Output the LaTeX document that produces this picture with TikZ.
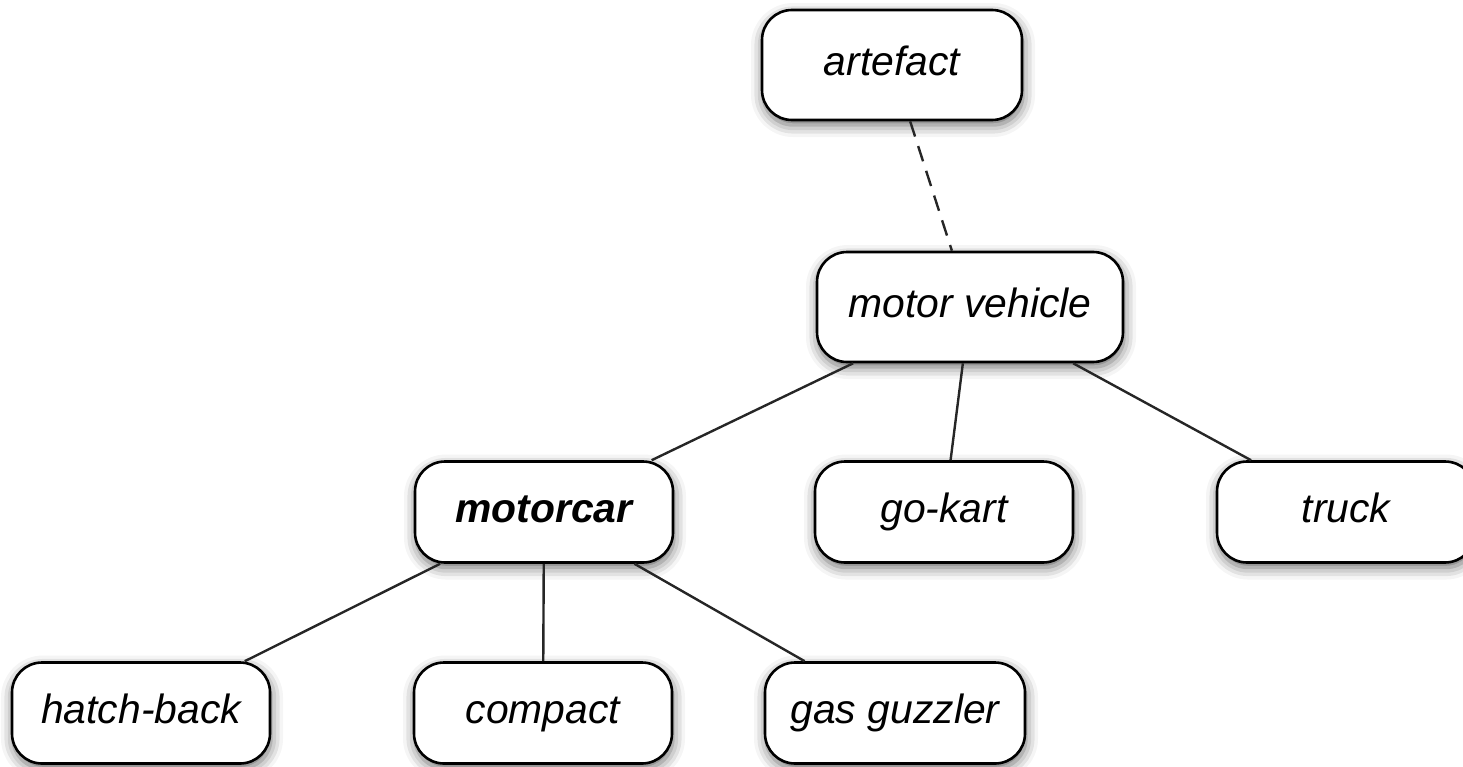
\documentclass[tikz,border=0pt]{standalone}
\usepackage{fontspec}
\setmainfont{Liberation Sans}
\usetikzlibrary{shadows.blur}
\tikzset{
  box/.style={draw=black, line width=1.3bp, fill=white, rounded corners=15bp,
    minimum width=129bp, minimum height=50.5bp, inner sep=0pt,
    text height=15bp, text depth=4.5bp,
    font=\fontsize{20.5}{24}\selectfont\itshape,
    blur shadow={shadow xshift=0.5bp, shadow yshift=-2.5bp, shadow blur radius=6bp, shadow opacity=60}},
  link/.style={line width=1.2bp, draw=black!85},
}
\begin{document}
\begin{tikzpicture}[x=0.5bp,y=-0.5bp]
\useasboundingbox (0,0) rectangle (1463,766);
\node[box, minimum width=130bp, minimum height=55bp] (artefact) at (892,65) {artefact};
\node[box, minimum width=153bp, minimum height=55bp] (mv) at (970,307) {motor vehicle};
\node[box] (motorcar) at (544,512) {\bfseries motorcar};
\node[box] (gokart) at (944,512) {go-kart};
\node[box] (truck) at (1346,512) {truck};
\node[box] (hatch) at (141,713) {hatch-back};
\node[box] (compact) at (543,713) {compact};
\node[box, minimum width=130bp] (gas) at (895,713) {gas guzzler};
\draw[link, dash pattern=on 8bp off 5bp] (artefact) -- (mv);
\draw[link] (mv) -- (motorcar);
\draw[link] (mv) -- (gokart);
\draw[link] (mv) -- (truck);
\draw[link] (motorcar) -- (hatch);
\draw[link] (motorcar) -- (compact);
\draw[link] (motorcar) -- (gas);
\end{tikzpicture}
\end{document}
